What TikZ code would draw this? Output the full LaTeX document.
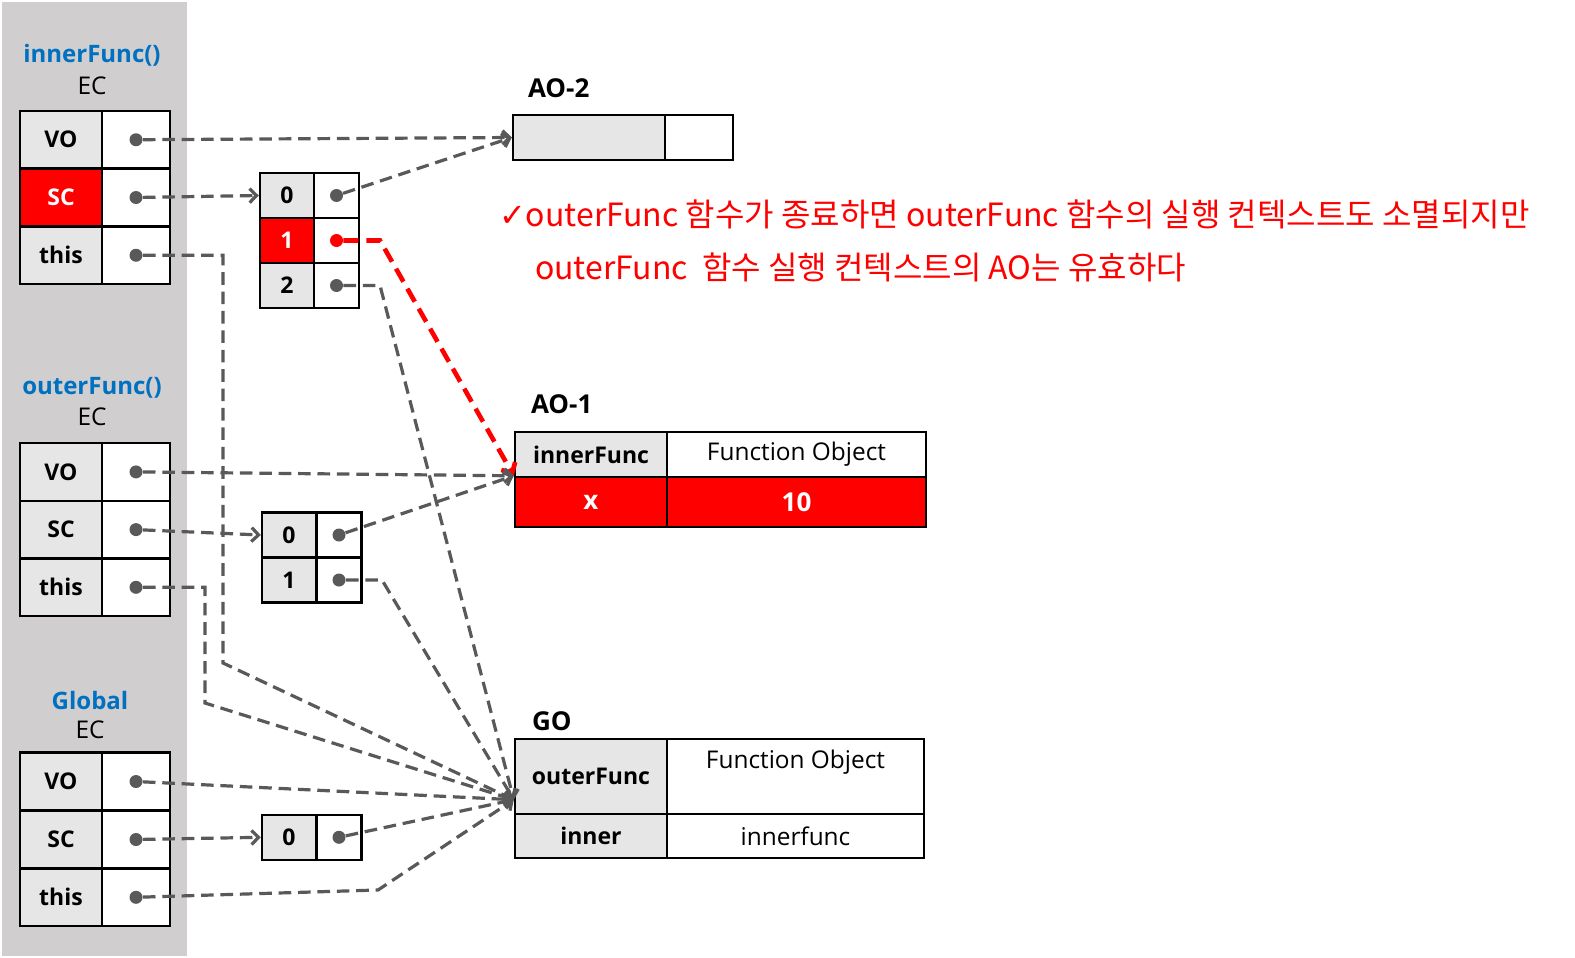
\documentclass[tikz,border=0pt]{standalone}
\usepackage{fontspec}
\setmainfont{Open Sans}
\newfontfamily\krfont{Noto Sans CJK KR}
\newfontfamily\symfont{DejaVu Sans}
\usetikzlibrary{arrows.meta,calc}
\definecolor{panelgray}{HTML}{D0CECE}
\definecolor{keygray}{HTML}{E6E6E6}
\definecolor{ptrgray}{HTML}{595959}
\definecolor{ecblue}{HTML}{0070C0}
\definecolor{hired}{HTML}{FF0000}
\begin{document}
\begin{tikzpicture}[x=0.5pt,y=-0.5pt,
    every node/.style={font=\fontsize{12.2}{14}\selectfont},
    cellkey/.style={draw,line width=1.2pt,fill=keygray,inner sep=0pt,font=\fontsize{11.5}{13}\selectfont\bfseries},
    cellval/.style={draw,line width=1.2pt,fill=white,inner sep=0pt},
    redcell/.style={fill=hired,text=white},
    eckey/.style={cellkey,minimum width=41pt,minimum height=28.9pt},
    ecval/.style={cellval,minimum width=34pt,minimum height=28.9pt},
    arrkey/.style={cellkey,minimum width=27pt,minimum height=22.5pt},
    arrval/.style={cellval,minimum width=22.5pt,minimum height=22.5pt},
    dot/.style={circle,fill=ptrgray,inner sep=0pt,minimum size=6.5pt},
    ptr/.style={ptrgray,line width=1.6pt,dash pattern=on 6.3pt off 3.4pt,-{Straight Barb[length=3.5pt,width=7pt]}},
    redptr/.style={hired,line width=2.3pt,dash pattern=on 7.5pt off 4pt,-{Straight Barb[length=4pt,width=8pt]}},
    ectitle/.style={font=\fontsize{12}{14}\selectfont\bfseries,text=ecblue},
    objname/.style={anchor=west,font=\fontsize{13}{15}\selectfont\bfseries},
    remark/.style={anchor=west,text=hired,font=\krfont\fontsize{16}{19}\selectfont}]
  \useasboundingbox (0,0) rectangle (1575,958);
  \fill[panelgray] (2,2) rectangle (187,956);

  % innerFunc() EC
  \node[ectitle] (ifn) at (92,55) {innerFunc()};
  \node (ifec) at (92,85.5) {EC};
  \node[eckey] (iVO) at (61,139.75) {VO};
  \node[ecval] (iVOv) at (136,139.75) {};
  \node[eckey,redcell] (iSC) at (61,197.5) {SC};
  \node[ecval] (iSCv) at (136,197.5) {};
  \node[eckey] (ithis) at (61,255.25) {this};
  \node[ecval] (ithisv) at (136,255.25) {};

  % outerFunc() EC
  \node[ectitle] (ofn) at (92,387.5) {outerFunc()};
  \node (ofec) at (92,417) {EC};
  \node[eckey] (oVO) at (61,471.9) {VO};
  \node[ecval] (oVOv) at (136,471.9) {};
  \node[eckey] (oSC) at (61,529.6) {SC};
  \node[ecval] (oSCv) at (136,529.6) {};
  \node[eckey] (othis) at (61,587.3) {this};
  \node[ecval] (othisv) at (136,587.3) {};

  % Global EC
  \node[ectitle] (gfn) at (90,700) {Global};
  \node (gec) at (90,730) {EC};
  \node[eckey] (gVO) at (61,781.5) {VO};
  \node[ecval] (gVOv) at (136,781.5) {};
  \node[eckey] (gSC) at (61,839.5) {SC};
  \node[ecval] (gSCv) at (136,839.5) {};
  \node[eckey] (gthis) at (61,897.3) {this};
  \node[ecval] (gthisv) at (136,897.3) {};

  % scope chains
  \node[arrkey] (s1k0) at (287,195.5) {0};
  \node[arrval] (s1v0) at (336.5,195.5) {};
  \node[arrkey,redcell] (s1k1) at (287,240.5) {1};
  \node[arrval] (s1v1) at (336.5,240.5) {};
  \node[arrkey] (s1k2) at (287,285.5) {2};
  \node[arrval] (s1v2) at (336.5,285.5) {};
  \node[arrkey] (s2k0) at (289,535) {0};
  \node[arrval] (s2v0) at (339,535) {};
  \node[arrkey] (s2k1) at (289,580) {1};
  \node[arrval] (s2v1) at (339,580) {};
  \node[arrkey] (s3k0) at (289,837.3) {0};
  \node[arrval] (s3v0) at (339,837.3) {};

  % AO-2
  \node[objname] (ao2) at (521,88) {AO-2};
  \node[cellkey,minimum width=76pt,minimum height=22.5pt] (ao2k) at (589,137.5) {};
  \node[cellval,minimum width=34pt,minimum height=22.5pt] (ao2v) at (699,137.5) {};

  % AO-1
  \node[objname] (ao1) at (524,404) {AO-1};
  \node[cellkey,minimum width=76pt,minimum height=22.5pt] (ao1k1) at (591,454.5) {innerFunc};
  \node[cellval,minimum width=129.5pt,minimum height=22.5pt] (ao1v1) at (796.5,454.5) {Function Object};
  \node[cellkey,redcell,font=\fontsize{13}{15}\selectfont\bfseries,minimum width=76pt,minimum height=25pt] (ao1k2) at (591,502) {x};
  \node[cellval,redcell,font=\fontsize{13}{15}\selectfont\bfseries,minimum width=129.5pt,minimum height=25pt] (ao1v2) at (796.5,502) {10};

  % GO
  \node[objname] (go) at (525,721) {GO};
  \node[cellkey,minimum width=76pt,minimum height=37.5pt] (gok1) at (591,776.5) {outerFunc};
  \node[cellval,minimum width=128.5pt,minimum height=37.5pt] (gov1) at (795.5,776.5) {};
  \node (gofn) at (795.5,762) {Function Object};
  \node[cellkey,minimum width=76pt,minimum height=22pt] (gok2) at (591,836) {inner};
  \node[cellval,minimum width=128.5pt,minimum height=22pt] (gov2) at (795.5,836) {innerfunc};

  % remark
  \node[remark] (note1) at (492,214) {{\symfont ✓}outerFunc 함수가 종료하면 outerFunc 함수의 실행 컨텍스트도 소멸되지만};
  \node[remark] (note2) at (528,267) {outerFunc~~함수 실행 컨텍스트의 AO는 유효하다};

  % pointers
  \node[dot] (iVOd) at (iVOv) {};
  \node[dot] (iSCd) at (iSCv) {};
  \node[dot] (ithisd) at (ithisv) {};
  \node[dot] (oVOd) at (oVOv) {};
  \node[dot] (oSCd) at (oSCv) {};
  \node[dot] (othisd) at (othisv) {};
  \node[dot] (gVOd) at (gVOv) {};
  \node[dot] (gSCd) at (gSCv) {};
  \node[dot] (gthisd) at (gthisv) {};
  \node[dot] (s1d0) at (s1v0) {};
  \node[dot,fill=hired] (s1d1) at (s1v1) {};
  \node[dot] (s1d2) at (s1v2) {};
  \node[dot] (s2d0) at (s2v0) {};
  \node[dot] (s2d1) at (s2v1) {};
  \node[dot] (s3d0) at (s3v0) {};
  \coordinate (gotip) at ($(gok1.west)!0.6!(gok1.south west)$);
  \coordinate (ib1) at (223,663);
  \coordinate (ob1) at (205,703);
  \coordinate (s1b1) at (380,240.5);
  \coordinate (s1b2) at (380,285.5);
  \coordinate (s2b1) at (382,580);
  \coordinate (gb1) at (378,890);
  \begin{scope}
    \draw[ptr] (iVOd) -- (ao2k.west);
    \draw[ptr] (iSCd) -- (s1k0.west);
    \draw[ptr] (ithisd) -| (ib1) -- (gotip);
    \draw[ptr] (s1d0) -- (ao2k.west);
    \draw[redptr] (s1d1) -- (s1b1) -- (ao1k2.north west);
    \draw[ptr] (s1d2) -- (s1b2) -- (gotip);
    \draw[ptr] (oVOd) -- (ao1k2.north west);
    \draw[ptr] (oSCd) -- (s2k0.west);
    \draw[ptr] (othisd) -| (ob1) -- (gotip);
    \draw[ptr] (s2d0) -- (ao1k2.north west);
    \draw[ptr] (s2d1) -- (s2b1) -- (gotip);
    \draw[ptr] (gVOd) -- (gotip);
    \draw[ptr] (gSCd) -- (s3k0.west);
    \draw[ptr] (gthisd) -- (gb1) -- (gotip);
    \draw[ptr] (s3d0) -- (gotip);
  \end{scope}
\end{tikzpicture}
\end{document}
